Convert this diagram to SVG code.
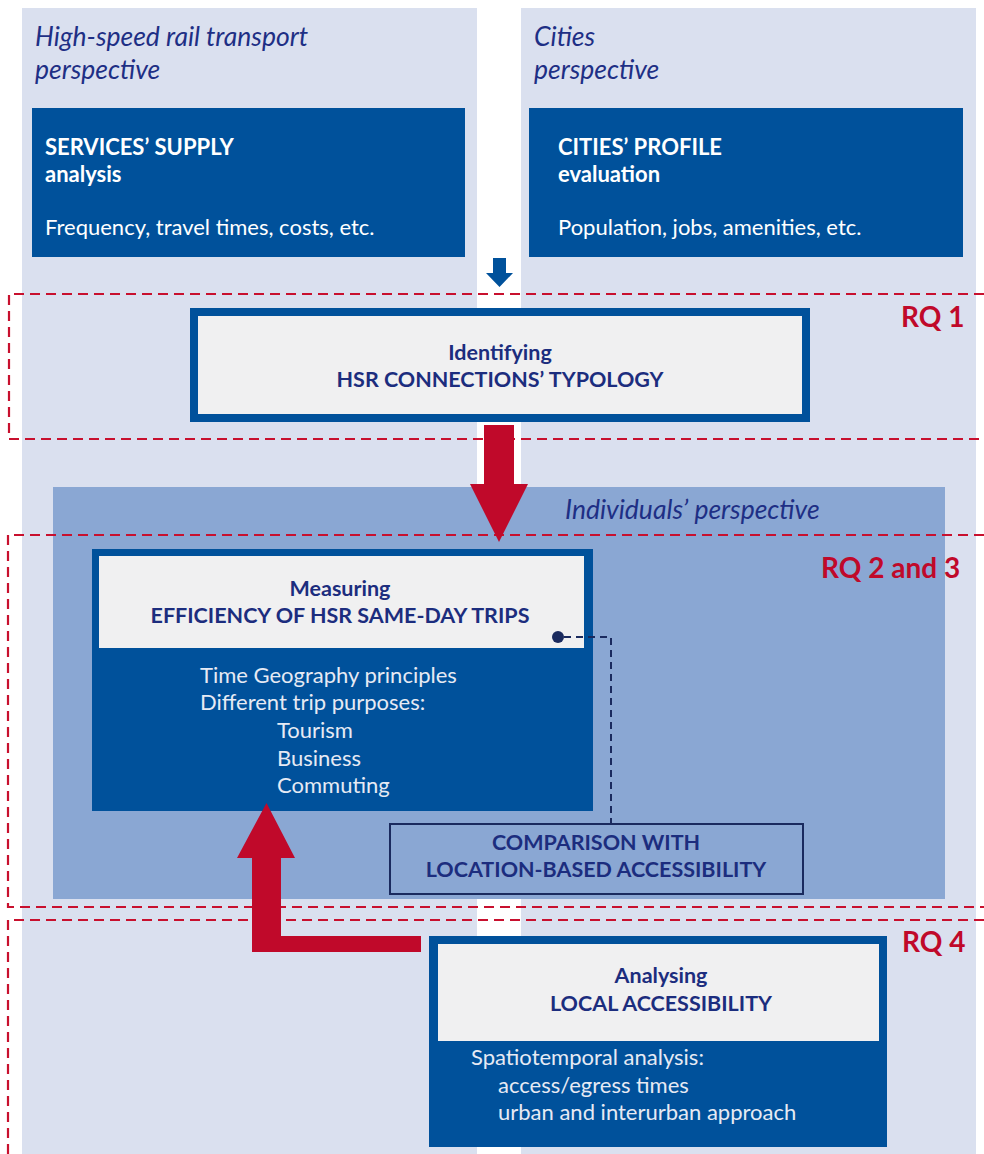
<svg xmlns="http://www.w3.org/2000/svg" width="984" height="1154" viewBox="0 0 984 1154">
<defs>
<style>
.panel{fill:#dae0ef}
.ind{fill:#8aa7d3}
.dark{fill:#00519b}
.light{fill:#f0f0f1}
.rq{fill:none;stroke:#c8102e;stroke-width:2.2;stroke-dasharray:10 6}
.red{fill:#c0092a}
.t{font-family:Lato,"Open Sans","Liberation Sans",sans-serif}
.persp{font-style:italic;font-size:26.5px;fill:#1e2f85}
.wh{fill:#ffffff;font-size:22px}
.whb{fill:#ffffff;font-size:22px;font-weight:bold}
.body{fill:#e6eaf4;font-size:22px}
.nav{fill:#1c2d7e;font-size:21.5px;font-weight:bold}
.rqt{fill:#c0092a;font-size:28px;font-weight:bold}
</style>
</defs>
<rect width="984" height="1154" fill="#ffffff"/>
<g id="panels">
<rect class="panel" x="22" y="8" width="455" height="1146"/>
<rect class="panel" x="521" y="8" width="455" height="1146"/>
<text class="t persp" x="35" y="46">High-speed rail transport</text>
<text class="t persp" x="35" y="79">perspective</text>
<text class="t persp" x="534" y="46">Cities</text>
<text class="t persp" x="534" y="79">perspective</text>
</g>
<g id="individuals-panel">
<rect class="ind" x="53" y="487" width="892" height="412"/>
<text class="t persp" x="565" y="519">Individuals’ perspective</text>
</g>
<g id="rq-frames">
<path class="rq" d="M984 294 H9 V439 H984"/>
<path class="rq" d="M984 535 H8 V907 H984"/>
<path class="rq" d="M984 920 H8 V1154"/>
<text class="t rqt" x="901" y="327">RQ 1</text>
<text class="t rqt" x="821" y="578">RQ 2 and 3</text>
<text class="t rqt" x="902" y="952">RQ 4</text>
</g>
<g id="services-supply">
<rect class="dark" x="32" y="108" width="433" height="149"/>
<text class="t whb" x="45" y="155">SERVICES’ SUPPLY</text>
<text class="t whb" x="45" y="182">analysis</text>
<text class="t wh" x="45" y="235">Frequency, travel times, costs, etc.</text>
</g>
<g id="cities-profile">
<rect class="dark" x="529" y="108" width="434" height="149"/>
<text class="t whb" x="558" y="155">CITIES’ PROFILE</text>
<text class="t whb" x="558" y="182">evaluation</text>
<text class="t wh" x="558" y="235">Population, jobs, amenities, etc.</text>
</g>
<g id="hsr-typology">
<rect x="194" y="312" width="612" height="106" fill="#f0f0f1" stroke="#00519b" stroke-width="8"/>
<text class="t nav" x="500" y="360" text-anchor="middle">Identifying</text>
<text class="t nav" x="500" y="387" text-anchor="middle">HSR CONNECTIONS’ TYPOLOGY</text>
</g>
<g id="efficiency">
<rect class="dark" x="92" y="549" width="501" height="262"/>
<rect class="light" x="99" y="556" width="485" height="92"/>
<text class="t nav" x="340" y="596" text-anchor="middle">Measuring</text>
<text class="t nav" x="340" y="623" text-anchor="middle">EFFICIENCY OF HSR SAME-DAY TRIPS</text>
<text class="t body" x="200" y="683">Time Geography principles</text>
<text class="t body" x="200" y="710">Different trip purposes:</text>
<text class="t body" x="277" y="738">Tourism</text>
<text class="t body" x="277" y="766">Business</text>
<text class="t body" x="277" y="793">Commuting</text>
</g>
<g id="comparison">
<rect x="390" y="824" width="413" height="70" fill="#8aa7d3" stroke="#1a2a5e" stroke-width="2"/>
<text class="t nav" x="596" y="850" text-anchor="middle">COMPARISON WITH</text>
<text class="t nav" x="596" y="877" text-anchor="middle">LOCATION-BASED ACCESSIBILITY</text>
</g>
<g id="local-accessibility">
<rect class="dark" x="429" y="936" width="458" height="211"/>
<rect class="light" x="438" y="944" width="441" height="97"/>
<text class="t nav" x="661" y="983" text-anchor="middle">Analysing</text>
<text class="t nav" x="661" y="1011" text-anchor="middle">LOCAL ACCESSIBILITY</text>
<text class="t body" x="471" y="1065">Spatiotemporal analysis:</text>
<text class="t body" x="498" y="1093">access/egress times</text>
<text class="t body" x="498" y="1120">urban and interurban approach</text>
</g>
<g id="connectors">
<polygon fill="#00519b" points="493,258 506,258 506,273 513,273 499.5,287 486,273 493,273"/>
<polygon class="red" points="484,425 514,425 514,484 528,484 499,542 470,484 484,484"/>
<polygon class="red" points="421,936 421,952 252,952 252,858 237,858 266.5,803 295,858 281,858 281,936"/>
<path d="M564 637 H611 V823" fill="none" stroke="#1a2a5e" stroke-width="2" stroke-dasharray="7 5"/>
<circle cx="558" cy="637" r="6" fill="#1a2a5e"/>
</g>
</svg>
